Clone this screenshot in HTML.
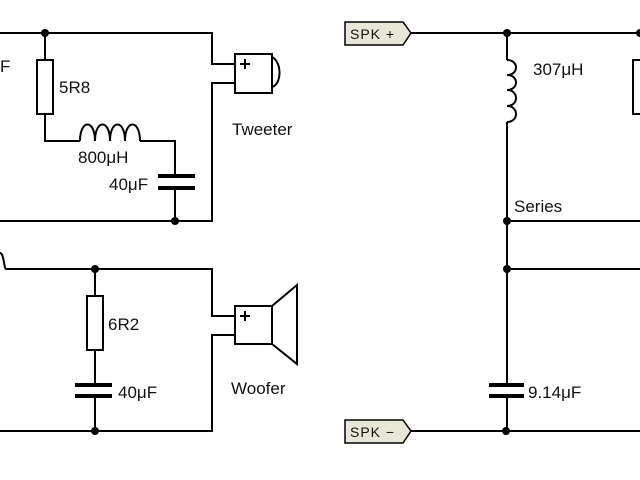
<!DOCTYPE html>
<html><head><style>
body{margin:0;background:#fff}
svg{display:block}
text{font-family:"Liberation Sans",sans-serif;font-size:17px;fill:#111}
</style></head><body>
<svg width="640" height="480" viewBox="0 0 640 480" stroke="#000" stroke-width="2" fill="none">
<!-- Tweeter section -->
<path d="M0 33H212V64H235M235 83H212V221H0"/>
<path d="M45 33V60M45 114V141H80M140 141H175V176M175 188V221"/>
<rect x="37" y="60" width="16" height="54" fill="#fff"/>
<path d="M80 141c0-22 15-22 15 0c0-22 15-22 15 0c0-22 15-22 15 0c0-22 15-22 15 0"/>
<path d="M158 176H195M158 188H195" stroke-width="4"/>
<circle cx="45" cy="33" r="4" fill="#000" stroke="none"/>
<circle cx="175" cy="221" r="4" fill="#000" stroke="none"/>
<rect x="235" y="54" width="37" height="39"/>
<path d="M272 57c10 5 10 27 0 30"/>
<path d="M245 59v10M240 64h10"/>
<text x="0" y="72" stroke="none">F</text>
<text x="59" y="93" stroke="none">5R8</text>
<text x="78" y="163" stroke="none">800μH</text>
<text x="109" y="190" stroke="none">40μF</text>
<text x="232" y="135" stroke="none">Tweeter</text>
<!-- Woofer section -->
<path d="M0 253c4 0 4 16 6 16H212V316H235M235 335H212V431H0"/>
<path d="M95 269V296M95 350V385M95 395V431"/>
<rect x="87" y="296" width="16" height="54" fill="#fff"/>
<path d="M75 385H112M75 396H112" stroke-width="4"/>
<circle cx="95" cy="269" r="4" fill="#000" stroke="none"/>
<circle cx="95" cy="431" r="4" fill="#000" stroke="none"/>
<rect x="235" y="306" width="37" height="38"/>
<path d="M272 306L297 285V364L272 344"/>
<path d="M245 311v10M240 316h10"/>
<text x="108" y="330" stroke="none">6R2</text>
<text x="118" y="398" stroke="none">40μF</text>
<text x="231" y="394" stroke="none">Woofer</text>
<!-- Right section -->
<path d="M345 22H403L411 33L403 45H345Z" fill="#e8e6d6" stroke-width="1.5"/>
<path d="M345 420H403L411 431L403 443H345Z" fill="#e8e6d6" stroke-width="1.5"/>
<text x="350" y="39" stroke="none" style="font-size:14px;letter-spacing:1px">SPK +</text>
<text x="350" y="437" stroke="none" style="font-size:14px;letter-spacing:1px">SPK −</text>
<path d="M411 33H640M507 33V60M507 122V385M507 396V431M411 431H640M507 221H640M507 269H640"/>
<path d="M507 60c12 0 12 15 0 15c12 0 12 15 0 15c12 0 12 16 0 16c12 0 12 16 0 16" stroke-width="2"/>
<path d="M489 385H524M489 396H524" stroke-width="4"/>
<rect x="633" y="60" width="16" height="54"/>
<circle cx="507" cy="33" r="4" fill="#000" stroke="none"/>
<circle cx="640" cy="33" r="4" fill="#000" stroke="none"/>
<circle cx="507" cy="221" r="4" fill="#000" stroke="none"/>
<circle cx="507" cy="269" r="4" fill="#000" stroke="none"/>
<circle cx="506" cy="431" r="4" fill="#000" stroke="none"/>
<text x="533" y="75" stroke="none">307μH</text>
<text x="514" y="212" stroke="none">Series</text>
<text x="528" y="398" stroke="none">9.14μF</text>
</svg>
</body></html>
